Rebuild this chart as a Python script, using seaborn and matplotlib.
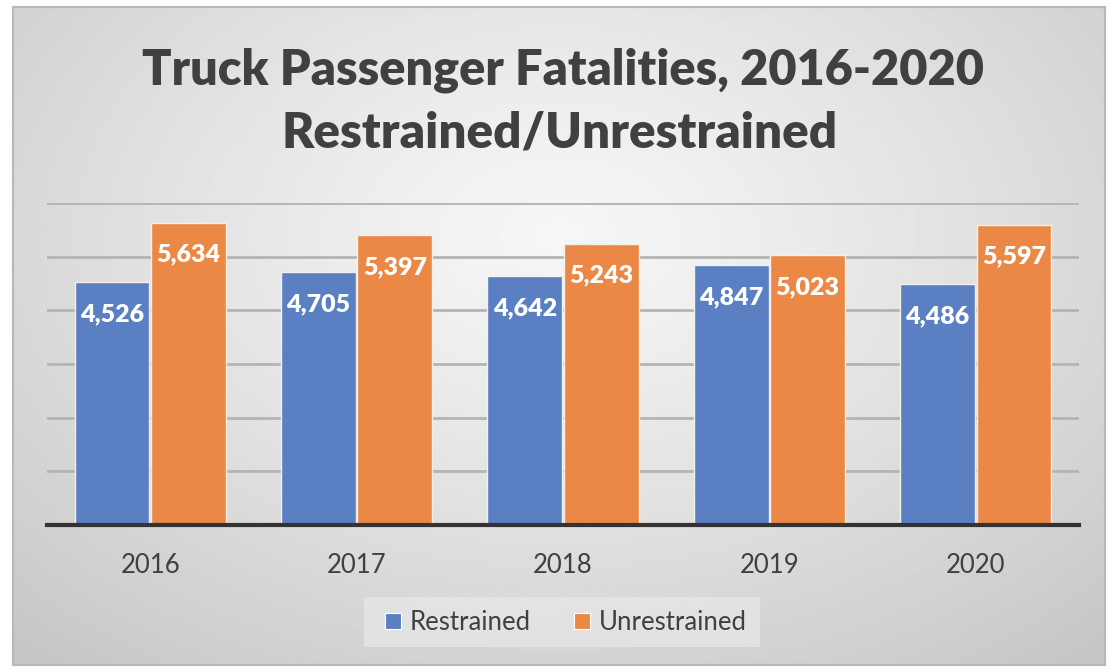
import numpy as np
import pandas as pd
import matplotlib.pyplot as plt
import seaborn as sns

years = ["2016", "2017", "2018", "2019", "2020"]
restrained = [4526, 4705, 4642, 4847, 4486]
unrestrained = [5634, 5397, 5243, 5023, 5597]
series = ["Restrained", "Unrestrained"]
colors = ["#5A7FC3", "#EC8846"]

df = pd.DataFrame({
    "Year": years * 2,
    "Fatalities": restrained + unrestrained,
    "Type": [series[0]] * len(years) + [series[1]] * len(years),
})

sns.set_style("white")
plt.rcParams["font.family"] = ["Lato", "DejaVu Sans"]

fig = plt.figure(figsize=(11.14, 6.69), dpi=100)
fig.patch.set_facecolor("white")

# radial grey panel behind the chart
bg = fig.add_axes([13 / 1114, 1 - 665 / 669, 1092 / 1114, 658 / 669], zorder=0)
yy, xx = np.mgrid[0:1:300j, 0:1:500j]
r = np.sqrt(((xx - 0.5) / 0.75) ** 2 + ((yy - 0.35) / 0.85) ** 2)
shade = 0.965 - 0.19 * np.clip(r, 0, 1) ** 1.2
bg.imshow(shade, cmap="gray", vmin=0, vmax=1, aspect="auto", extent=[0, 1, 1, 0])
bg.set_xticks([])
bg.set_yticks([])
for s in bg.spines.values():
    s.set_color("#b8b8b8")
    s.set_linewidth(1.5)

ax = fig.add_axes([47 / 1114, 1 - 525 / 669, 1032 / 1114, 322 / 669], zorder=1)
ax.patch.set_alpha(0)
sns.barplot(data=df, x="Year", y="Fatalities", hue="Type", palette=colors,
            saturation=1, width=0.74, gap=0.02, edgecolor="#f4efe8", linewidth=1,
            ax=ax, legend=False, zorder=3)

ax.set_ylim(0, 6000)
ax.set_yticks(range(0, 7000, 1000))
ax.yaxis.grid(True, color="#b4b4b4", linewidth=2, zorder=0)
ax.set_axisbelow(True)
ax.tick_params(axis="y", left=False, labelleft=False)
ax.tick_params(axis="x", bottom=False, labelsize=18.5, labelcolor="#404040", pad=17)
ax.set_xlabel(None)
ax.set_ylabel(None)
for side in ["left", "right", "top"]:
    ax.spines[side].set_visible(False)
ax.spines["bottom"].set_color("#333333")
ax.spines["bottom"].set_linewidth(3)
ax.spines["bottom"].set_zorder(5)

for cont in ax.containers:
    for bar in cont:
        h = bar.get_height()
        ax.annotate(f"{int(round(h)):,}", (bar.get_x() + bar.get_width() / 2, h),
                    xytext=(0, -23), textcoords="offset points",
                    ha="center", va="center", color="white",
                    fontsize=18, fontweight="heavy", zorder=6)

fig.text(563 / 1114, 1 - 70 / 669, "Truck Passenger Fatalities, 2016-2020",
         ha="center", va="center", fontsize=35, fontweight="heavy", color="#404040")
fig.text(560 / 1114, 1 - 133 / 669, "Restrained/Unrestrained",
         ha="center", va="center", fontsize=35.5, fontweight="heavy", color="#404040")

handles = [plt.Line2D([], [], marker="s", linestyle="", markersize=12,
                      markerfacecolor=c, markeredgecolor="white", markeredgewidth=0.8)
           for c in colors]
leg = fig.legend(handles, series, loc="center", bbox_to_anchor=(562 / 1114, 1 - 622 / 669),
                 ncol=2, frameon=True, fontsize=18.5, handletextpad=0.05,
                 handlelength=1.2, columnspacing=1.4, borderpad=0.5, fancybox=False)
leg.get_frame().set_facecolor("#e6e6e6")
leg.get_frame().set_edgecolor("none")
for t in leg.get_texts():
    t.set_color("#404040")

plt.savefig("out.png", dpi=100)
